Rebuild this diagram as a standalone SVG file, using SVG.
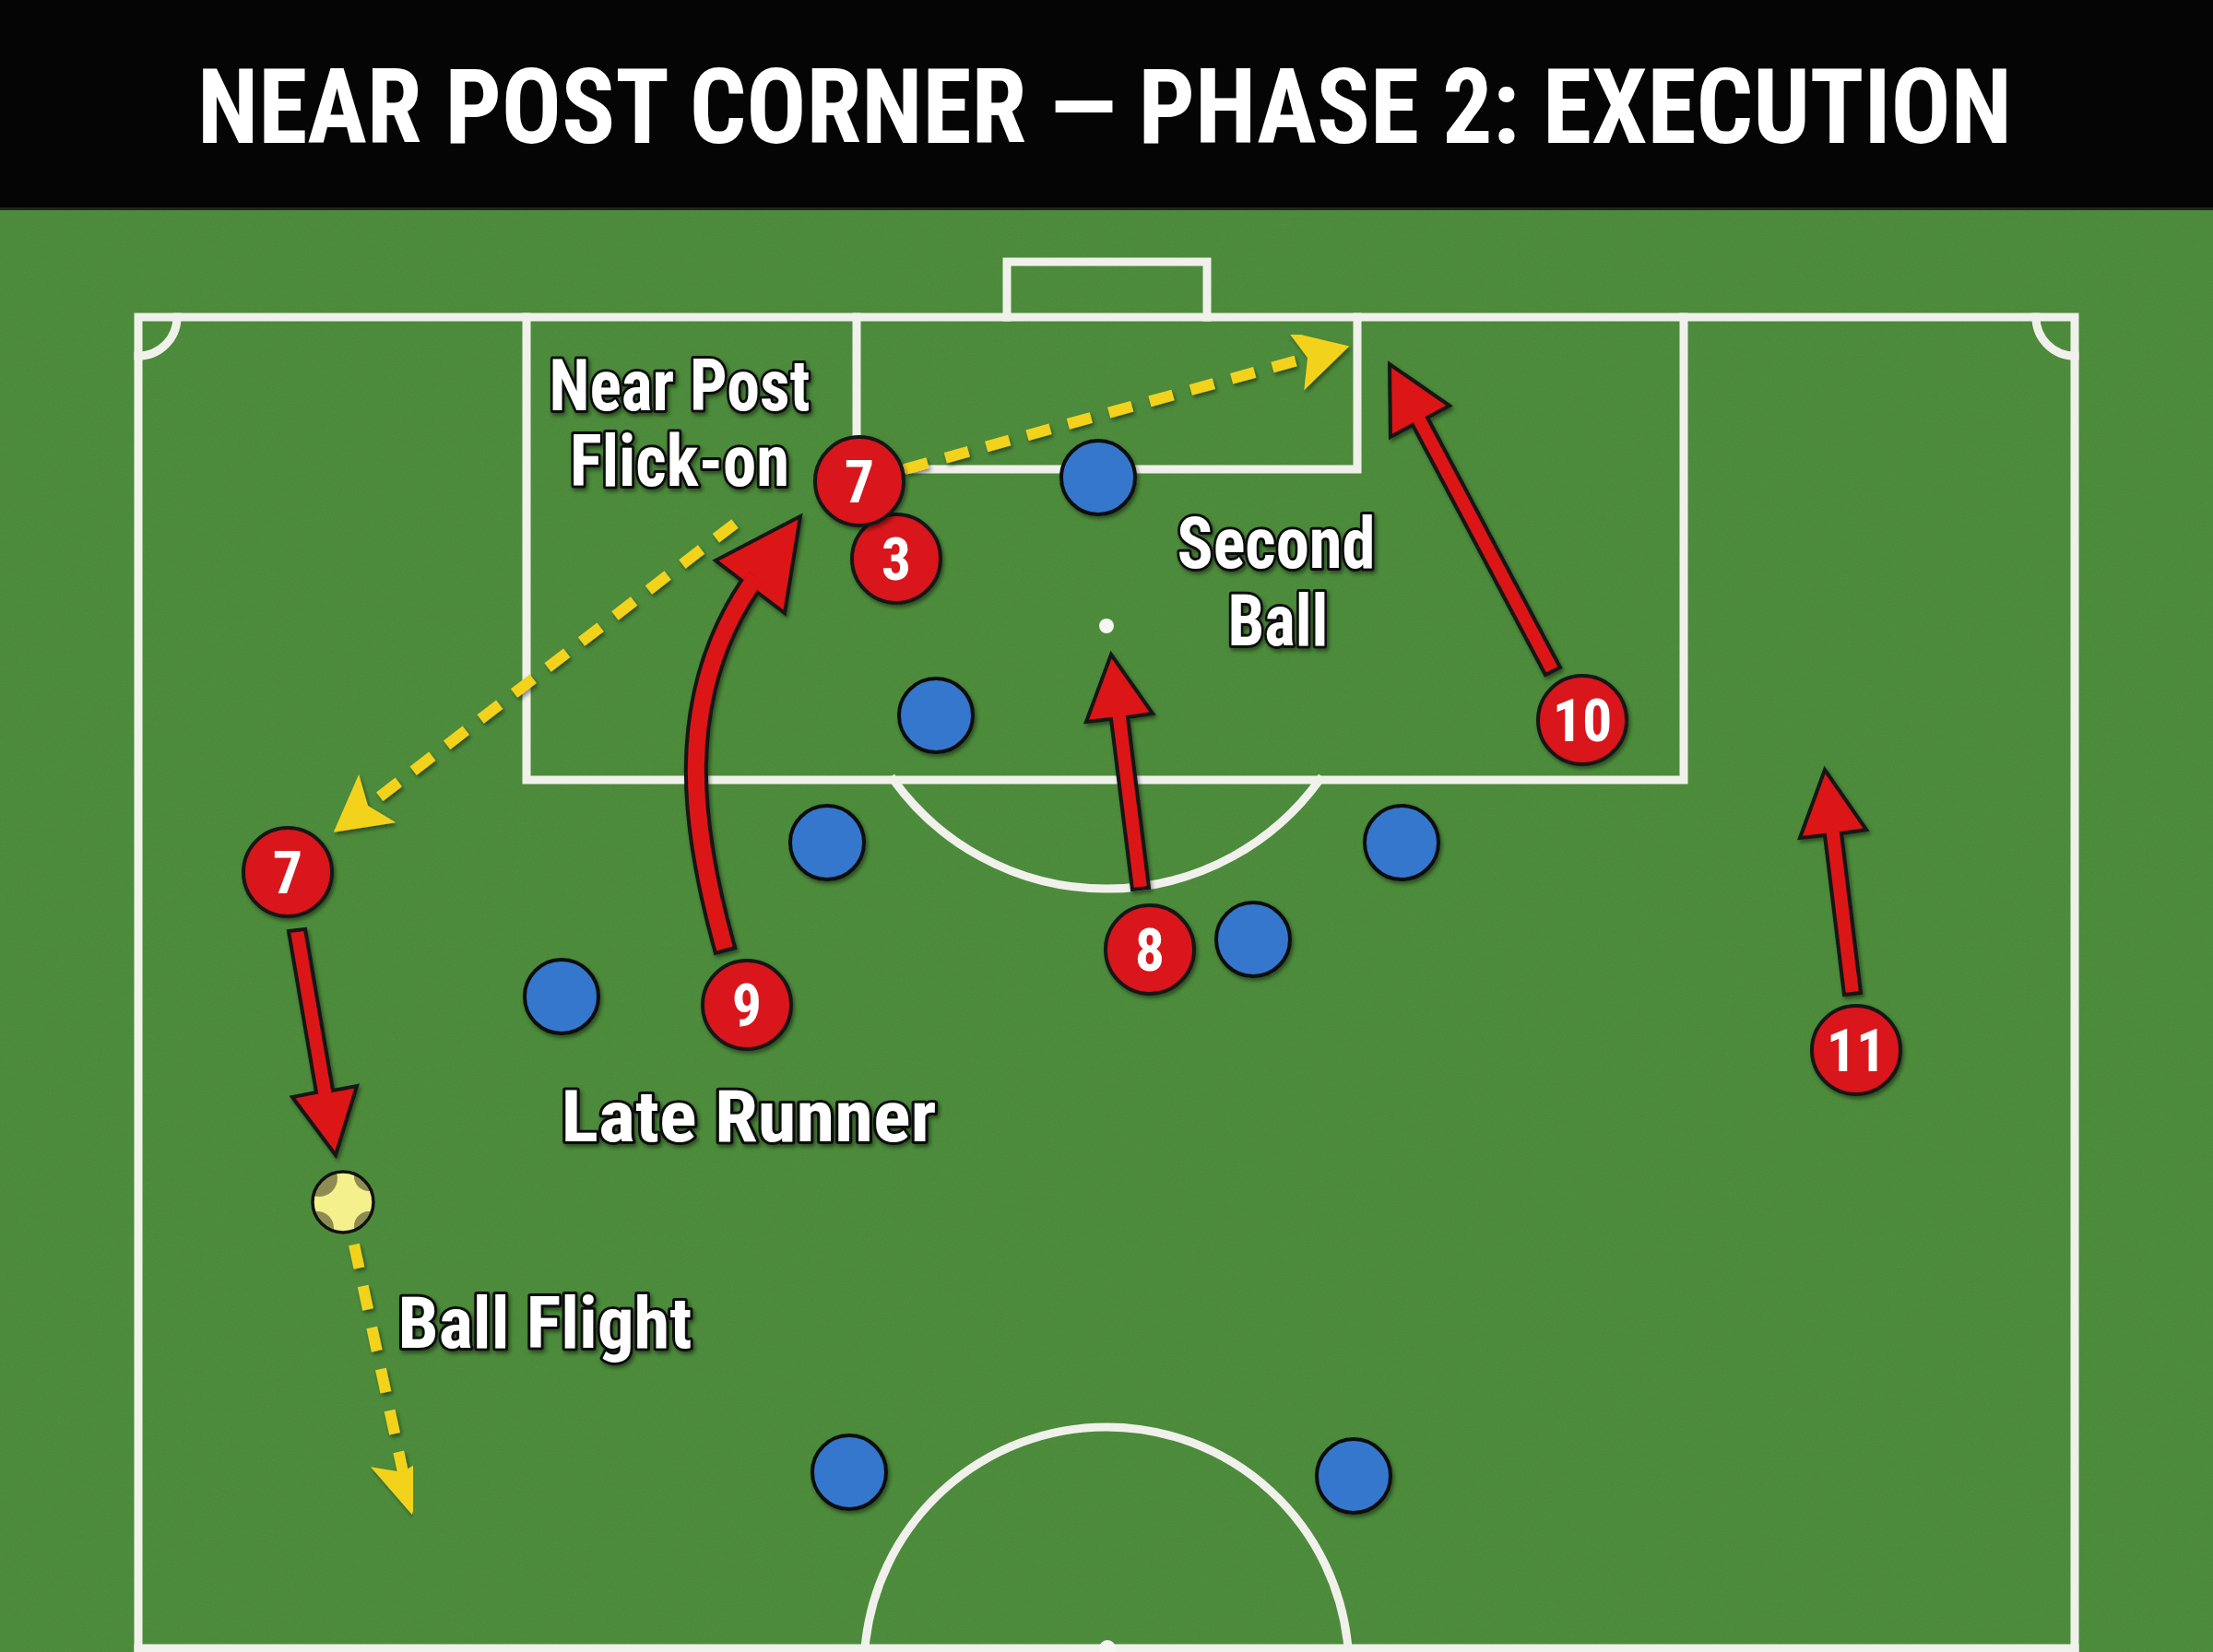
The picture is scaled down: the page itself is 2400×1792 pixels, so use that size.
<svg xmlns="http://www.w3.org/2000/svg" width="2400" height="1792" viewBox="0 0 2400 1792">
  <defs>
    <style>
      .line{fill:none;stroke:#f1f1ec;stroke-width:9;stroke-linecap:square}
      .red{fill:#d8151b;stroke:#161616;stroke-width:4}
      .blue{fill:#3577cc;stroke:#111;stroke-width:4}
      .num{font-family:"Roboto Condensed","Liberation Sans Narrow",Roboto,"Liberation Sans",sans-serif;font-weight:700;font-size:64px;fill:#fff;text-anchor:middle}
      .lbl{font-family:"Roboto Condensed","Liberation Sans Narrow",Roboto,"Liberation Sans",sans-serif;font-weight:700;font-size:78px;fill:#fff;stroke:#111;stroke-width:6;stroke-linejoin:round;paint-order:stroke fill;text-anchor:middle}
      .title{font-family:"Roboto Condensed","Liberation Sans Narrow",Roboto,"Liberation Sans",sans-serif;font-weight:700;font-size:114px;fill:#fff;text-anchor:middle}
      .ydash{fill:none;stroke:#f3d21f;stroke-width:12;stroke-dasharray:26 20}
      .yhead{fill:#f3d21f}
      .rarrow{fill:#dc1219;stroke:#151515;stroke-width:4;stroke-linejoin:miter}
    </style>
    <filter id="shadow" x="-20%" y="-20%" width="140%" height="140%">
      <feDropShadow dx="2" dy="3" stdDeviation="2" flood-color="#000" flood-opacity="0.45"/>
    </filter>
    <filter id="grain" x="0" y="0" width="100%" height="100%">
      <feTurbulence type="fractalNoise" baseFrequency="0.9" numOctaves="2" seed="3" result="n"/>
      <feColorMatrix in="n" type="matrix" values="0 0 0 0 0.2  0 0 0 0 0.35  0 0 0 0 0.1  0 0 0 -1.2 0.75"/>
    </filter>
    <marker id="yArrow" viewBox="0 0 60 66" markerWidth="60" markerHeight="66" refX="13" refY="33" orient="auto" markerUnits="userSpaceOnUse">
      <path d="M0,0 L60,33 L0,66 L13,33 Z" class="yhead"/>
    </marker>
    <radialGradient id="redGrad" cx="40%" cy="35%" r="70%">
      <stop offset="0" stop-color="#e4262a"/>
      <stop offset="1" stop-color="#c8121a"/>
    </radialGradient>
    <clipPath id="ballClip"><circle cx="372" cy="1304" r="33"/></clipPath>
  </defs>

  <!-- background -->
  <rect x="0" y="0" width="2400" height="1792" fill="#4a8a3a"/>
  <rect x="0" y="227" width="2400" height="1565" fill="#4a8a3a" filter="url(#grain)" opacity="0.35"/>
  <rect x="0" y="0" width="2400" height="227" fill="#050505"/>
  <rect x="0" y="225" width="2400" height="3" fill="#222"/>
  <text class="title" x="1198" y="155" textLength="1968" lengthAdjust="spacingAndGlyphs">NEAR POST CORNER — PHASE 2: EXECUTION</text>

  <!-- pitch markings -->
  <g id="pitch">
    <path class="line" d="M150 1788 L150 344 L2250 344 L2250 1788"/>
    <line class="line" x1="150" y1="1788" x2="2250" y2="1788"/>
    <path class="line" d="M1092 344 L1092 284 L1309 284 L1309 344"/>
    <path class="line" d="M929 344 L929 509 L1472 509 L1472 344"/>
    <path class="line" d="M571 344 L571 846 L1826 846 L1826 344"/>
    <path class="line" d="M969 846 A285 285 0 0 0 1431 846" stroke-linecap="butt"/>
    <path class="line" d="M192 344 A42 42 0 0 1 150 386" stroke-linecap="butt"/>
    <path class="line" d="M2208 344 A42 42 0 0 0 2250 386" stroke-linecap="butt"/>
    <path class="line" d="M938 1788 A263 263 0 0 1 1462 1788" stroke-linecap="butt"/>
    <circle cx="1200" cy="679" r="8" fill="#f5f5f2"/>
    <circle cx="1201" cy="1788" r="9" fill="#f5f5f2"/>
  </g>

  <!-- connectors -->
  <g id="connectors">
    <!-- yellow ball paths -->
    <line class="ydash" x1="981" y1="509" x2="1418" y2="388" marker-end="url(#yArrow)" filter="url(#shadow)"/>
    <line class="ydash" x1="797" y1="568" x2="399" y2="874" marker-end="url(#yArrow)" filter="url(#shadow)"/>
    <line class="ydash" x1="384" y1="1350" x2="437" y2="1597" marker-end="url(#yArrow)" filter="url(#shadow)"/>

    <!-- red runs -->
    <g filter="url(#shadow)">
      <polygon class="rarrow" points="1692,724 1548,453 1572,440 1507,395 1508,474 1532,461 1676,732"/>
      <polygon class="rarrow" points="2018,1077 1997,904 2024,900 1979,835 1952,909 1979,906 2000,1079"/>
      <polygon class="rarrow" points="1246,963 1223,778 1250,774 1205,710 1178,783 1205,780 1228,965"/>
      <polygon class="rarrow" points="331,1008 361,1183 387,1178 364,1253 317,1190 343,1185 313,1010"/>
      <!-- curved late run -->
      <path d="M787 1033 L786 1029 C750 900 730 760 813 636" fill="none" stroke="#151515" stroke-width="26"/>
      <polygon class="rarrow" points="868,560 776,608 851,665"/>
      <path d="M786 1029 C750 900 730 760 813 636 L820 626" fill="none" stroke="#dc1219" stroke-width="18"/>
    </g>
  </g>

  <!-- defenders -->
  <g id="defenders" filter="url(#shadow)">
    <g id="def1"><circle class="blue" cx="1191" cy="518" r="40"/></g>
    <g id="def2"><circle class="blue" cx="1015" cy="776" r="40"/></g>
    <g id="def3"><circle class="blue" cx="897" cy="914" r="40"/></g>
    <g id="def4"><circle class="blue" cx="609" cy="1081" r="40"/></g>
    <g id="def5"><circle class="blue" cx="1359" cy="1019" r="40"/></g>
    <g id="def6"><circle class="blue" cx="1520" cy="914" r="40"/></g>
    <g id="def7"><circle class="blue" cx="921" cy="1597" r="40"/></g>
    <g id="def8"><circle class="blue" cx="1468" cy="1601" r="40"/></g>
  </g>

  <!-- attackers -->
  <g id="p3" filter="url(#shadow)"><circle class="red" fill="url(#redGrad)" cx="972" cy="606" r="48"/><text class="num" x="972" y="629">3</text></g>
  <g id="p7a" filter="url(#shadow)"><circle class="red" fill="url(#redGrad)" cx="932" cy="522" r="48"/><text class="num" x="932" y="545">7</text></g>
  <g id="p9" filter="url(#shadow)"><circle class="red" fill="url(#redGrad)" cx="810" cy="1090" r="48"/><text class="num" x="810" y="1113">9</text></g>
  <g id="p8" filter="url(#shadow)"><circle class="red" fill="url(#redGrad)" cx="1247" cy="1030" r="48"/><text class="num" x="1247" y="1053">8</text></g>
  <g id="p10" filter="url(#shadow)"><circle class="red" fill="url(#redGrad)" cx="1716" cy="781" r="48"/><text class="num" x="1716" y="804">10</text></g>
  <g id="p11" filter="url(#shadow)"><circle class="red" fill="url(#redGrad)" cx="2013" cy="1139" r="48"/><text class="num" x="2013" y="1162">11</text></g>
  <g id="p7b" filter="url(#shadow)"><circle class="red" fill="url(#redGrad)" cx="312" cy="946" r="48"/><text class="num" x="312" y="969">7</text></g>

  <!-- ball -->
  <g id="ball">
    <circle cx="372" cy="1304" r="33" fill="#f4f08c"/>
    <g clip-path="url(#ballClip)" fill="#8e8c52">
      <circle cx="346" cy="1278" r="20"/>
      <circle cx="400" cy="1276" r="16"/>
      <circle cx="344" cy="1332" r="18"/>
      <circle cx="400" cy="1330" r="16"/>
    </g>
    <circle cx="372" cy="1304" r="33" fill="none" stroke="#111" stroke-width="3.5"/>
  </g>

  <!-- labels -->
  <g id="labels" filter="url(#shadow)">
    <g id="lbl-nearpost">
      <text class="lbl" x="737" y="445" textLength="283" lengthAdjust="spacingAndGlyphs">Near Post</text>
      <text class="lbl" x="737" y="527" textLength="238" lengthAdjust="spacingAndGlyphs">Flick-on</text>
    </g>
    <g id="lbl-second">
      <text class="lbl" x="1384" y="616" font-size="76" textLength="215" lengthAdjust="spacingAndGlyphs">Second</text>
      <text class="lbl" x="1386" y="700" font-size="76" textLength="109" lengthAdjust="spacingAndGlyphs">Ball</text>
    </g>
    <g id="lbl-late"><text class="lbl" x="812" y="1238" font-size="82" textLength="407" lengthAdjust="spacingAndGlyphs">Late Runner</text></g>
    <g id="lbl-flight"><text class="lbl" x="591" y="1462" textLength="319" lengthAdjust="spacingAndGlyphs">Ball Flight</text></g>
  </g>
</svg>
